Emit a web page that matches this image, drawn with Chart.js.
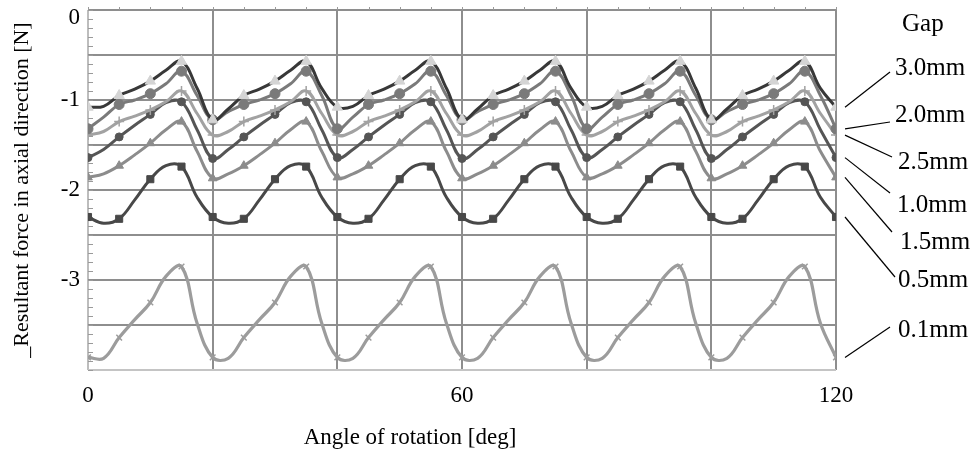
<!DOCTYPE html>
<html>
<head>
<meta charset="utf-8">
<script src="https://cdn.jsdelivr.net/npm/chart.js@4"></script>
<style>
  html, body { margin: 0; padding: 0; background: #fff; }
  #wrap { width: 974px; height: 454px; }
</style>
</head>
<body>
<div id="wrap"><canvas id="grafica"></canvas></div>
<script>
// angle of rotation [deg], every 2.5 deg (markers every 5 deg)
const angles = [0,2.5,5,7.5,10,12.5,15,17.5,20,22.5,25,27.5,30,32.5,35,37.5,40,42.5,45,47.5,50,52.5,55,57.5,
  60,62.5,65,67.5,70,72.5,75,77.5,80,82.5,85,87.5,90,92.5,95,97.5,100,102.5,105,107.5,110,112.5,115,117.5,120];

// gap labels, in the order of the labels at the right
const gaps = ['3.0mm','2.0mm','2.5mm','1.0mm','1.5mm','0.5mm','0.1mm'];

// resultant force [N] per gap
const gap30 = [-1.08,-1.07,-0.95,-0.88,-0.79,-0.67,-0.57,-0.87, -1.22,-1.10,-0.95,-0.88,-0.79,-0.67,-0.57,-0.87,
  -1.08,-1.07,-0.95,-0.88,-0.79,-0.67,-0.57,-0.87, -1.22,-1.10,-0.95,-0.88,-0.79,-0.67,-0.57,-0.87,
  -1.08,-1.07,-0.95,-0.88,-0.79,-0.67,-0.57,-0.87, -1.22,-1.10,-0.95,-0.88,-0.79,-0.67,-0.57,-0.87, -1.08];
const gap20 = [-1.32,-1.19,-1.05,-1.00,-0.93,-0.82,-0.68,-0.95, -1.22,-1.13,-1.05,-1.00,-0.93,-0.82,-0.68,-0.95,
  -1.32,-1.19,-1.05,-1.00,-0.93,-0.82,-0.68,-0.95, -1.22,-1.13,-1.05,-1.00,-0.93,-0.82,-0.68,-0.95,
  -1.32,-1.19,-1.05,-1.00,-0.93,-0.82,-0.68,-0.95, -1.22,-1.13,-1.05,-1.00,-0.93,-0.82,-0.68,-0.95, -1.32];
const gap25 = [-1.39,-1.35,-1.24,-1.18,-1.11,-1.02,-0.90,-1.15, -1.39,-1.35,-1.24,-1.18,-1.11,-1.02,-0.90,-1.15,
  -1.39,-1.35,-1.24,-1.18,-1.11,-1.02,-0.90,-1.15, -1.39,-1.35,-1.24,-1.18,-1.11,-1.02,-0.90,-1.15,
  -1.39,-1.35,-1.24,-1.18,-1.11,-1.02,-0.90,-1.15, -1.39,-1.35,-1.24,-1.18,-1.11,-1.02,-0.90,-1.15, -1.39];
const gap10 = [-1.64,-1.55,-1.41,-1.28,-1.16,-1.03,-1.02,-1.33, -1.65,-1.55,-1.41,-1.28,-1.16,-1.03,-1.02,-1.33,
  -1.64,-1.55,-1.41,-1.28,-1.16,-1.03,-1.02,-1.33, -1.65,-1.55,-1.41,-1.28,-1.16,-1.03,-1.02,-1.33,
  -1.64,-1.55,-1.41,-1.28,-1.16,-1.03,-1.02,-1.33, -1.65,-1.55,-1.41,-1.28,-1.16,-1.03,-1.02,-1.33, -1.64];
const gap15 = [-1.86,-1.82,-1.73,-1.61,-1.48,-1.33,-1.24,-1.57, -1.87,-1.82,-1.73,-1.61,-1.48,-1.33,-1.24,-1.57,
  -1.86,-1.82,-1.73,-1.61,-1.48,-1.33,-1.24,-1.57, -1.87,-1.82,-1.73,-1.61,-1.48,-1.33,-1.24,-1.57,
  -1.86,-1.82,-1.73,-1.61,-1.48,-1.33,-1.24,-1.57, -1.87,-1.82,-1.73,-1.61,-1.48,-1.33,-1.24,-1.57, -1.86];
const gap05 = [-2.30,-2.37,-2.32,-2.11,-1.88,-1.73,-1.74,-2.08, -2.30,-2.37,-2.32,-2.11,-1.88,-1.73,-1.74,-2.08,
  -2.30,-2.37,-2.32,-2.11,-1.88,-1.73,-1.74,-2.08, -2.30,-2.37,-2.32,-2.11,-1.88,-1.73,-1.74,-2.08,
  -2.30,-2.37,-2.32,-2.11,-1.88,-1.73,-1.74,-2.08, -2.30,-2.37,-2.32,-2.11,-1.88,-1.73,-1.74,-2.08, -2.30];
const gap01 = [-3.86,-3.87,-3.64,-3.44,-3.25,-2.96,-2.85,-3.48, -3.86,-3.87,-3.64,-3.44,-3.25,-2.96,-2.85,-3.48,
  -3.86,-3.87,-3.64,-3.44,-3.25,-2.96,-2.85,-3.48, -3.86,-3.87,-3.64,-3.44,-3.25,-2.96,-2.85,-3.48,
  -3.86,-3.87,-3.64,-3.44,-3.25,-2.96,-2.85,-3.48, -3.86,-3.87,-3.64,-3.44,-3.25,-2.96,-2.85,-3.48, -3.86];

// tick labels shown
const xTickLabels = [0, 60, 120];
const yTickLabels = [-1, -2, -3];   // the 0 label is drawn a bit lower, inside the plugin

const serie = [gap30, gap20, gap25, gap10, gap15, gap05, gap01];
const lineColors = ['#383838','#7a7a7a','#a2a2a2','#555555','#8c8c8c','#484848','#9c9c9c'];
const markColors = ['#d4d4d4','#7a7a7a','#a2a2a2','#555555','#8c8c8c','#484848','#9c9c9c'];
const markStyles = ['triangle','circle','cross','circle','triangle','rect','crossRot'];
const markSizes = [6,5,5,4,5,5,4];
// label positions at the right (text left x, text middle y, leader end)
const labelPos = [[895,68,890,72],[895,115,890,122],[898,162,892,157],[897,205,890,193],
  [900,242,892,232],[898,280,895,277],[898,330,890,327]];

const FONT = "'Liberation Serif', 'Times New Roman', serif";

const datasets = serie.map(function(vals, i){
    return {
        label: gaps[i],
        data: angles.map(function(a, j){ return {x: a, y: vals[j]}; }),
        borderColor: lineColors[i],
        borderWidth: i === 6 ? 3.2 : 3,
        backgroundColor: markColors[i],
        pointBackgroundColor: markColors[i],
        pointBorderColor: markColors[i],
        pointBorderWidth: markStyles[i].indexOf('cross') === 0 ? 1.5 : 1,
        pointStyle: markStyles[i],
        pointRadius: function(ctx){ return ctx.dataIndex % 2 === 0 ? markSizes[i] : 0; },
        tension: 0.4,
        fill: false
    };
});

//Plugin para ticks menores, titulo del eje x y etiquetas de la derecha
const extras = {
    id: 'extras',
    beforeDatasetsDraw: function(chart){
        const c = chart.ctx, a = chart.chartArea;
        const xs = chart.scales.x, ys = chart.scales.y;
        c.save();
        c.strokeStyle = '#9a9a9a';
        c.lineWidth = 1;
        for (let k = 0; k <= 40; k++){
            const py = Math.round(ys.getPixelForValue(-k / 10)) + 0.5;
            c.beginPath(); c.moveTo(a.left, py); c.lineTo(a.left + 5, py); c.stroke();
        }
        for (let k = 0; k <= 24; k++){
            const px = Math.round(xs.getPixelForValue(k * 5)) + 0.5;
            c.beginPath(); c.moveTo(px, a.top); c.lineTo(px, a.top - 3); c.stroke();
        }
        c.restore();
    },
    afterDraw: function(chart){
        const c = chart.ctx, a = chart.chartArea;
        const ys = chart.scales.y;
        c.save();
        c.fillStyle = '#000';
        c.textBaseline = 'middle';
        c.textAlign = 'right';
        c.font = '23px ' + FONT;
        c.fillText('0', a.left - 8, ys.getPixelForValue(0) + 8);
        c.textAlign = 'center';
        c.fillText('Angle of rotation [deg]', 410, 438);
        c.textAlign = 'left';
        c.font = '25px ' + FONT;
        c.fillText('Gap', 902, 24);
        c.strokeStyle = '#000';
        c.lineWidth = 1.2;
        serie.forEach(function(vals, i){
            const p = labelPos[i];
            const y0 = ys.getPixelForValue(vals[vals.length - 1]);
            c.beginPath(); c.moveTo(a.right + 9, y0); c.lineTo(p[2], p[3]); c.stroke();
            c.fillText(gaps[i], p[0], p[1]);
        });
        c.restore();
    }
};

const config = {
    type: 'line',
    data: { datasets: datasets },
    options: {
        responsive: true,
        maintainAspectRatio: false,
        animation: false,
        layout: { padding: { top: 10, right: 138, left: 0, bottom: 0 } },
        plugins: { legend: { display: false }, tooltip: { enabled: false } },
        scales: {
            x: {
                type: 'linear',
                min: 0, max: 120,
                border: { display: false },
                grid: {
                    drawTicks: false,
                    lineWidth: 2,
                    color: function(ctx){ return ctx.tick && ctx.tick.value === 0 ? '#bdbdbd' : '#8e8e8e'; }
                },
                ticks: {
                    stepSize: 20,
                    padding: 12,
                    color: '#000',
                    maxRotation: 0,
                    font: { family: FONT, size: 23 },
                    callback: function(v){ return xTickLabels.indexOf(v) >= 0 ? String(v) : ''; }
                },
                afterFit: function(s){ s.height = 84; s.paddingLeft = 0; s.paddingRight = 0; }
            },
            y: {
                min: -4, max: 0,
                border: { display: false },
                grid: {
                    drawTicks: false,
                    lineWidth: 2,
                    color: function(ctx){ return ctx.tick && ctx.tick.value === -4 ? '#c4c4c4' : '#8e8e8e'; }
                },
                ticks: {
                    stepSize: 0.5,
                    padding: 8,
                    color: '#000',
                    font: { family: FONT, size: 23 },
                    callback: function(v){ return yTickLabels.indexOf(v) >= 0 ? String(v) : ''; }
                },
                title: {
                    display: true,
                    text: '_Resultant force in axial direction [N]',
                    color: '#000',
                    font: { family: FONT, size: 22 },
                    padding: { top: 9, bottom: 0 }
                },
                afterFit: function(s){ s.width = 88; s.paddingTop = 0; s.paddingBottom = 0; }
            }
        }
    },
    plugins: [extras]
};

const myChart = new Chart(document.getElementById('grafica'), config);
</script>
</body>
</html>
